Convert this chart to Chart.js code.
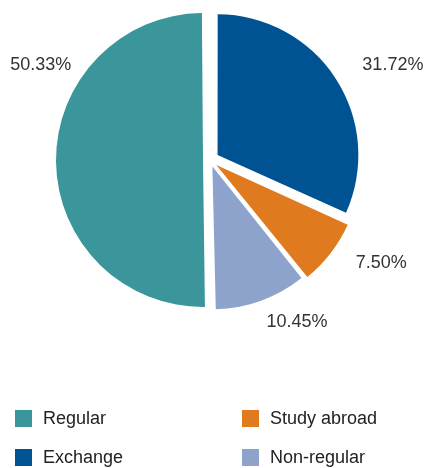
<!DOCTYPE html>
<html>
<head>
<meta charset="utf-8">
<script src="https://cdn.jsdelivr.net/npm/chart.js@4"></script>
<style>
  html, body { margin: 0; padding: 0; background: #fff; }
  #wrap { position: relative; width: 430px; height: 468px; overflow: hidden; font-family: "Liberation Sans", Arial, sans-serif; }
  #chartBox { position: absolute; left: 0; top: -10px; width: 430px; height: 350px; }
  #legend { position: absolute; left: 0; top: 0; width: 430px; height: 468px; pointer-events: none; }
  .item { position: absolute; display: flex; align-items: center; font-size: 18px; color: #222; white-space: nowrap; }
  .box { width: 17px; height: 17px; margin-right: 11px; }
</style>
</head>
<body>
<div id="wrap">
  <div id="chartBox"><canvas id="pie"></canvas></div>
  <div id="legend"></div>
</div>
<script>
// slice order runs clockwise from 12 o'clock
const categories = ["Exchange", "Study abroad", "Non-regular", "Regular"];
const shares = [31.72, 7.50, 10.45, 50.33];
const colors = ["#005393", "#e07a1e", "#8da3cc", "#3a969b"];

// legend grid: Regular / Study abroad on top, Exchange / Non-regular below
const legendOrder = ["Regular", "Study abroad", "Exchange", "Non-regular"];

// pull-out of each slice in px (arc elements move by offset / 4)
const explode = [9, 8, 7, 7];

// where each percentage sits: shift from the slice mid angle (deg) and distance from centre
const labelSpots = [
  { shift: 5.5, dist: 206 },
  { shift: -6.6, dist: 200 },
  { shift: -8.2, dist: 184 },
  { shift: 29.9, dist: 194 }
];

const pctLabels = {
  id: "pctLabels",
  afterDatasetsDraw(chart) {
    const ctx = chart.ctx;
    const arcs = chart.getDatasetMeta(0).data;
    ctx.save();
    ctx.font = "18px 'Liberation Sans', Arial, sans-serif";
    ctx.fillStyle = "#333";
    ctx.textAlign = "center";
    ctx.textBaseline = "middle";
    arcs.forEach((arc, i) => {
      const p = arc.getProps(["x", "y", "startAngle", "endAngle"], true);
      const a = (p.startAngle + p.endAngle) / 2 + labelSpots[i].shift * Math.PI / 180;
      const d = labelSpots[i].dist;
      ctx.fillText(shares[i].toFixed(2) + "%", p.x + Math.cos(a) * d, p.y + Math.sin(a) * d);
    });
    ctx.restore();
  }
};

new Chart(document.getElementById("pie"), {
  type: "pie",
  data: {
    labels: categories,
    datasets: [{
      data: shares,
      backgroundColor: colors,
      borderWidth: 0,
      offset: explode.map(v => v * 4),
      hoverOffset: 0
    }]
  },
  options: {
    responsive: true,
    maintainAspectRatio: false,
    animation: false,
    layout: { padding: { top: 12, bottom: 22, left: 0, right: 10 } },
    plugins: {
      legend: { display: false },
      tooltip: { enabled: false }
    }
  },
  plugins: [pctLabels]
});

// html legend, two columns
const legendEl = document.getElementById("legend");
const cols = [15, 242];
const rows = [418, 457];
legendOrder.forEach((name, k) => {
  const idx = categories.indexOf(name);
  const el = document.createElement("div");
  el.className = "item";
  el.style.left = cols[k % 2] + "px";
  el.style.top = (rows[Math.floor(k / 2)] - 11) + "px";
  el.style.height = "22px";
  el.innerHTML = `<span class="box" style="background:${colors[idx]}"></span><span>${name}</span>`;
  legendEl.appendChild(el);
});
</script>
</body>
</html>
